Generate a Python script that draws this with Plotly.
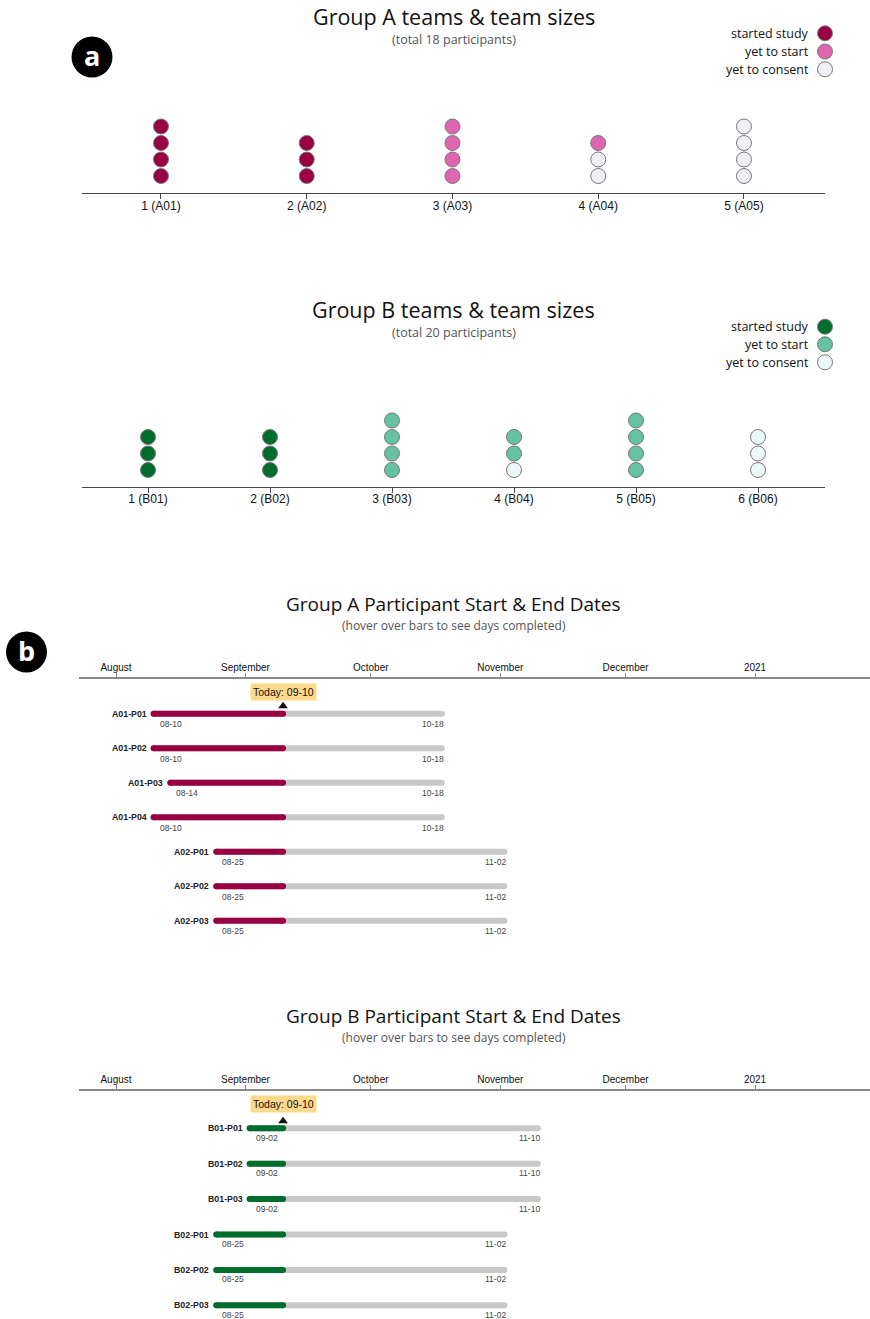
import plotly.graph_objects as go
from datetime import date

# ---------------- data ----------------
teams_a = ["1 (A01)", "2 (A02)", "3 (A03)", "4 (A04)", "5 (A05)"]
a_started = [4, 3, 0, 0, 0]
a_yet_to_start = [0, 0, 4, 1, 0]
a_yet_to_consent = [0, 0, 0, 2, 4]

teams_b = ["1 (B01)", "2 (B02)", "3 (B03)", "4 (B04)", "5 (B05)", "6 (B06)"]
b_started = [3, 3, 0, 0, 0, 0]
b_yet_to_start = [0, 0, 4, 2, 4, 0]
b_yet_to_consent = [0, 0, 0, 1, 0, 3]

status_labels = ["started study", "yet to start", "yet to consent"]
colors_a = ["#980043", "#df65b0", "#f1eef6"]
colors_b = ["#006d2c", "#66c2a4", "#edf8fb"]

a_participants = ["A01-P01", "A01-P02", "A01-P03", "A01-P04", "A02-P01", "A02-P02", "A02-P03"]
a_start = ["2020-08-10", "2020-08-10", "2020-08-14", "2020-08-10", "2020-08-25", "2020-08-25", "2020-08-25"]
a_end = ["2020-10-18", "2020-10-18", "2020-10-18", "2020-10-18", "2020-11-02", "2020-11-02", "2020-11-02"]

b_participants = ["B01-P01", "B01-P02", "B01-P03", "B02-P01", "B02-P02", "B02-P03"]
b_start = ["2020-09-02", "2020-09-02", "2020-09-02", "2020-08-25", "2020-08-25", "2020-08-25"]
b_end = ["2020-11-10", "2020-11-10", "2020-11-10", "2020-11-02", "2020-11-02", "2020-11-02"]

today = "2020-09-10"
month_ticks = ["2020-08-01", "2020-09-01", "2020-10-01", "2020-11-01", "2020-12-01", "2021-01-01"]
month_labels = ["August", "September", "October", "November", "December", "2021"]

# ---------------- layout helpers ----------------
W, H = 870, 1319
def px(x):
    return x / W
def py(y):
    return 1 - y / H

TITLE_FONT = "Open Sans, Noto Sans, sans-serif"
AXIS_FONT = "Liberation Sans, Arial, sans-serif"

fig = go.Figure()
annotations = []
shapes = []

# ---------------- dot plots ----------------
def dot_plot(teams, started, yet_start, yet_consent, colors, xa, ya):
    counts_by_status = [started, yet_start, yet_consent]
    order = [2, 1, 0]  # stacking bottom -> top
    xs = {s: [] for s in range(3)}
    ys = {s: [] for s in range(3)}
    for i in range(len(teams)):
        level = 0
        for s in order:
            for _ in range(counts_by_status[s][i]):
                xs[s].append(i)
                ys[s].append(level)
                level += 1
    for s in range(3):
        fig.add_trace(go.Scatter(
            x=xs[s], y=ys[s], mode="markers", xaxis=xa, yaxis=ya,
            marker=dict(size=15, color=colors[s], line=dict(color="#777", width=1)),
            name=status_labels[s], showlegend=False,
            hovertemplate=status_labels[s] + "<extra></extra>",
        ))

dot_plot(teams_a, a_started, a_yet_to_start, a_yet_to_consent, colors_a, "x", "y")
dot_plot(teams_b, b_started, b_yet_to_start, b_yet_to_consent, colors_b, "x2", "y2")

def dot_xaxis(teams, lo, hi, anchor):
    return dict(domain=[px(82), px(825)], range=[lo, hi], anchor=anchor,
                showgrid=False, zeroline=False,
                showline=True, linecolor="#444", linewidth=1, ticks="outside", ticklen=5,
                tickcolor="#444", tickvals=list(range(len(teams))), ticktext=teams,
                ticklabelstandoff=-4,
                tickfont=dict(family=AXIS_FONT, size=12, color="#111"), fixedrange=True)

DOT_STEP = 16.5
def dot_yaxis(axis_y, top_y, first_off, anchor):
    h = axis_y - top_y
    return dict(domain=[py(axis_y), py(top_y)], anchor=anchor,
                range=[-first_off / DOT_STEP, (h - first_off) / DOT_STEP],
                visible=False, fixedrange=True)

# ---------------- timelines ----------------
def d(s):
    y, m, dd = map(int, s.split("-"))
    return date(y, m, dd)

def timeline(parts, starts, ends, color, xa, ya, date_shift):
    for i, (p, s, e) in enumerate(zip(parts, starts, ends)):
        done = min(d(today), d(e))
        days_done = (done - d(s)).days
        total = (d(e) - d(s)).days
        ht = f"{p}: {days_done} of {total} days completed<extra></extra>"
        fig.add_trace(go.Scatter(
            x=[s, e], y=[i, i], mode="lines+markers", xaxis=xa, yaxis=ya,
            line=dict(color="#c8c8c8", width=6), marker=dict(size=6, color="#c8c8c8"),
            showlegend=False, hovertemplate=ht))
        fig.add_trace(go.Scatter(
            x=[s, done.isoformat()], y=[i, i], mode="lines+markers", xaxis=xa, yaxis=ya,
            line=dict(color=color, width=6), marker=dict(size=6, color=color),
            showlegend=False, hovertemplate=ht))
        annotations.append(dict(x=s, y=i, xref=xa, yref=ya, text=f"<b>{p}</b>", showarrow=False,
                                xanchor="right", yanchor="middle", xshift=-5,
                                font=dict(family=AXIS_FONT, size=8.8, color="#222")))
        annotations.append(dict(x=s, y=i, xref=xa, yref=ya, text=s[5:], showarrow=False,
                                xanchor="left", yanchor="middle", xshift=4, yshift=date_shift,
                                font=dict(family=AXIS_FONT, size=8.5, color="#444")))
        annotations.append(dict(x=e, y=i, xref=xa, yref=ya, text=e[5:], showarrow=False,
                                xanchor="right", yanchor="middle", xshift=4, yshift=date_shift,
                                font=dict(family=AXIS_FONT, size=8.5, color="#444")))

timeline(a_participants, a_start, a_end, "#980043", "x3", "y3", -10.5)
timeline(b_participants, b_start, b_end, "#006d2c", "x4", "y4", -9.5)

def today_marker(xa, ya, tri_y, lab_y):
    fig.add_trace(go.Scatter(x=[today], y=[tri_y], mode="markers", xaxis=xa, yaxis=ya,
                             marker=dict(symbol="triangle-up", size=8.5, color="#111"),
                             showlegend=False, hoverinfo="skip"))
    annotations.append(dict(x=today, y=lab_y, xref=xa, yref=ya, text="Today: " + today[5:],
                            showarrow=False, xanchor="center", yanchor="middle",
                            bgcolor="#fdd98c", borderpad=2,
                            font=dict(family=AXIS_FONT, size=10.5, color="#111")))

A_ROW0, A_STEP = 713.7, 34.5
B_ROW0, B_STEP = 1128.3, 35.4
today_marker("x3", "y3", (706 - A_ROW0) / A_STEP, (692.5 - A_ROW0) / A_STEP)
today_marker("x4", "y4", (1121 - B_ROW0) / B_STEP, (1104.3 - B_ROW0) / B_STEP)

def time_xaxis(anchor):
    return dict(domain=[px(79), 1], type="date",
                range=["2020-07-23 03:23", "2021-01-28 12:50"],
                side="top", anchor=anchor, showgrid=False, zeroline=False,
                showline=True, linecolor="#8a8a8a", linewidth=1.5,
                ticks="outside", ticklen=4, tickcolor="#8a8a8a",
                ticklabelstandoff=-2,
                tickvals=month_ticks, ticktext=month_labels,
                tickfont=dict(family=AXIS_FONT, size=10, color="#111"), fixedrange=True)

# ---------------- titles ----------------
def title(text, sub, y_t, y_s, tsize, ssize):
    annotations.append(dict(x=px(453.5), y=py(y_t), xref="paper", yref="paper", text=text,
                            showarrow=False, xanchor="center", yanchor="middle",
                            font=dict(family=TITLE_FONT, size=tsize, color="#111")))
    annotations.append(dict(x=px(453.5), y=py(y_s), xref="paper", yref="paper", text=sub,
                            showarrow=False, xanchor="center", yanchor="middle",
                            font=dict(family=TITLE_FONT, size=ssize, color="#555")))

title("Group A teams &amp; team sizes", "(total 18 participants)", 16.5, 40, 21.5, 12.5)
title("Group B teams &amp; team sizes", "(total 20 participants)", 309.5, 332.5, 21.5, 12.5)
title("Group A Participant Start &amp; End Dates", "(hover over bars to see days completed)", 604, 625.5, 19, 12)
title("Group B Participant Start &amp; End Dates", "(hover over bars to see days completed)", 1016, 1037.5, 19, 12)

# ---------------- legends ----------------
def legend(colors, ys):
    for lab, c, y in zip(status_labels, colors, ys):
        annotations.append(dict(x=px(811), y=py(y), xref="paper", yref="paper", text=lab,
                                showarrow=False, xanchor="right", yanchor="middle",
                                font=dict(family=TITLE_FONT, size=12.5, color="#111")))
        shapes.append(dict(type="circle", xref="paper", yref="paper",
                           xsizemode="pixel", ysizemode="pixel",
                           xanchor=px(825), yanchor=py(y), x0=-7.5, x1=7.5, y0=-7.5, y1=7.5,
                           fillcolor=c, line=dict(color="#777", width=1)))

legend(colors_a, [33.3, 51.5, 69.3])
legend(colors_b, [326.7, 344.3, 362.3])

# ---------------- badges ----------------
def badge(letter, cx, cy):
    shapes.append(dict(type="circle", xref="paper", yref="paper",
                       xsizemode="pixel", ysizemode="pixel",
                       xanchor=px(cx), yanchor=py(cy), x0=-20.5, x1=20.5, y0=-20.5, y1=20.5,
                       fillcolor="#000", line=dict(color="#000", width=0)))
    annotations.append(dict(x=px(cx), y=py(cy), xref="paper", yref="paper",
                            text=f"<b>{letter}</b>", showarrow=False,
                            xanchor="center", yanchor="middle", yshift=2,
                            font=dict(family=TITLE_FONT, size=27, color="#fff")))

badge("a", 92, 57)
badge("b", 26.5, 652)

fig.update_layout(
    width=W, height=H, margin=dict(l=0, r=0, t=0, b=0),
    paper_bgcolor="#fff", plot_bgcolor="rgba(0,0,0,0)", showlegend=False,
    xaxis=dot_xaxis(teams_a, -0.542, 4.556, "y"),
    yaxis=dot_yaxis(193.3, 100, 17.3, "x"),
    xaxis2=dot_xaxis(teams_b, -0.541, 5.549, "y2"),
    yaxis2=dot_yaxis(486.7, 394, 16.7, "x2"),
    xaxis3=time_xaxis("y3"),
    yaxis3=dict(domain=[py(940), py(679)], anchor="x3",
                range=[(940 - A_ROW0) / A_STEP, (679 - A_ROW0) / A_STEP],
                visible=False, fixedrange=True),
    xaxis4=time_xaxis("y4"),
    yaxis4=dict(domain=[0, py(1091)], anchor="x4",
                range=[(1319 - B_ROW0) / B_STEP, (1091 - B_ROW0) / B_STEP],
                visible=False, fixedrange=True),
    annotations=annotations, shapes=shapes,
    hovermode="closest",
)

fig.write_html("out.html", config={"displayModeBar": False},
               post_script="document.body.style.margin='0';document.body.style.overflow='hidden';")
